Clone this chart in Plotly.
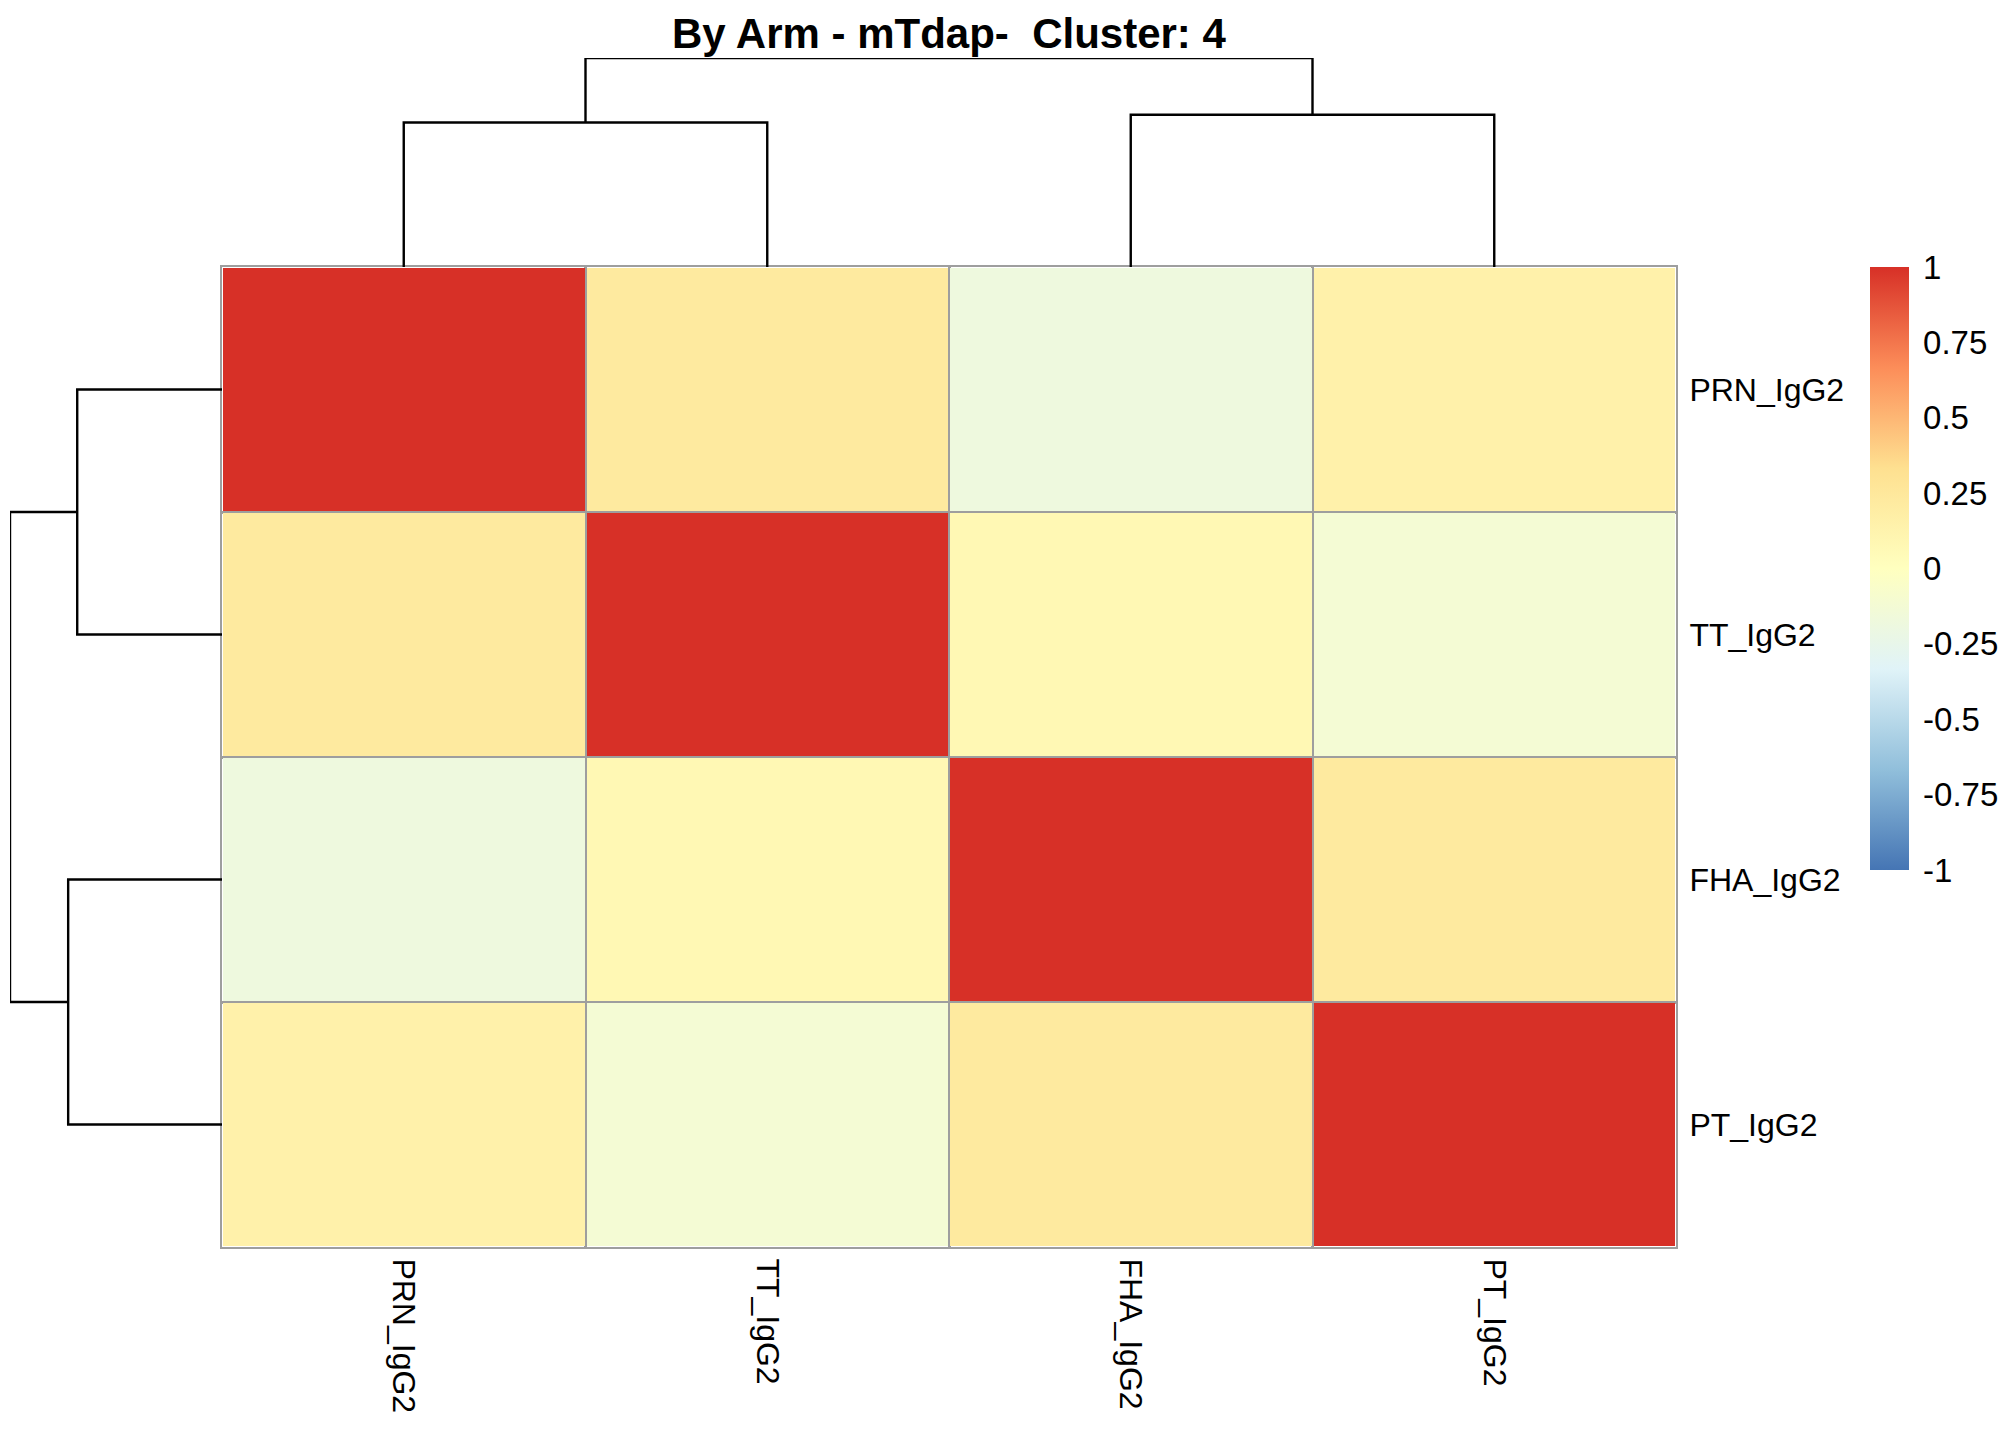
import plotly.graph_objects as go

# --- data -------------------------------------------------------------------
labels = ["PRN_IgG2", "TT_IgG2", "FHA_IgG2", "PT_IgG2"]
corr = [
    [1.00, 0.23, -0.18, 0.15],
    [0.23, 1.00, 0.08, -0.12],
    [-0.18, 0.08, 1.00, 0.23],
    [0.15, -0.12, 0.23, 1.00],
]
# hierarchical clustering merges: (left, right, height); ids >= 4 are earlier merges
col_merges = [(0, 1, 1.12), (2, 3, 1.18), (4, 5, 1.62)]
row_merges = [(0, 1, 1.12), (2, 3, 1.19), (4, 5, 1.64)]
cbar_vals = [1, 0.75, 0.5, 0.25, 0, -0.25, -0.5, -0.75, -1]
title = "By Arm - mTdap-  Cluster: 4"

# pheatmap default palette: rev(brewer.pal(7, "RdYlBu"))
pal = ["#4575B4", "#91BFDB", "#E0F3F8", "#FFFFBF", "#FEE090", "#FC8D59", "#D73027"]
cscale = [[i / (len(pal) - 1), c] for i, c in enumerate(pal)]

# page has an 8px body margin, so the figure is a bit smaller than the window
OFF = 8
W, H = 2016 - 2 * OFF, 1440 - 2 * OFF
FONT = "Liberation Sans, Arial, sans-serif"


def px_x(p):
    return (p - OFF) / W


def px_y(p):
    return 1 - (p - OFF) / H


hm_x = [px_x(222), px_x(1676)]
hm_y = [px_y(1247), px_y(267)]


def dendro_segments(merges, n):
    """return x (leaf position) and y (height) lists for U-shaped links"""
    pos = {i: float(i) for i in range(n)}
    hgt = {i: 0.0 for i in range(n)}
    xs, ys = [], []
    for k, (a, b, h) in enumerate(merges):
        xs += [pos[a], pos[a], pos[b], pos[b], None]
        ys += [hgt[a], h, h, hgt[b], None]
        pos[n + k] = (pos[a] + pos[b]) / 2
        hgt[n + k] = h
    return xs, ys


fig = go.Figure()

fig.add_trace(go.Heatmap(
    z=corr, x=list(range(4)), y=list(range(4)),
    colorscale=cscale, zmin=-1, zmax=1, xgap=2, ygap=2,
    colorbar=dict(
        x=px_x(1870), xanchor="left", y=px_y(267), yanchor="top",
        len=(870 - 267) / H, lenmode="fraction", thickness=39,
        outlinewidth=0, tickvals=cbar_vals, ticktext=[str(v) for v in cbar_vals],
        ticks="outside", ticklen=8, tickcolor="rgba(0,0,0,0)",
        tickfont=dict(size=33, family=FONT, color="black"),
        ypad=0, xpad=0,
    ),
    showscale=True,
))

cx, cy = dendro_segments(col_merges, 4)
fig.add_trace(go.Scatter(x=cx, y=cy, mode="lines", xaxis="x2", yaxis="y2",
                         line=dict(color="black", width=2.4), showlegend=False,
                         hoverinfo="skip"))
rx, ry = dendro_segments(row_merges, 4)
fig.add_trace(go.Scatter(x=ry, y=rx, mode="lines", xaxis="x3", yaxis="y3",
                         line=dict(color="black", width=2.4), showlegend=False,
                         hoverinfo="skip"))

grey = "#9E9E9E"
col_top = max(m[2] for m in col_merges)
row_top = max(m[2] for m in row_merges)
cell_edges = [i + 0.5 for i in range(len(labels) - 1)]

fig.update_layout(
    width=W, height=H, margin=dict(l=0, r=0, t=0, b=0),
    paper_bgcolor="white", plot_bgcolor="white",
    font=dict(family=FONT, color="black"),
    xaxis=dict(domain=hm_x, range=[-0.5, 3.5], tickvals=list(range(4)),
               ticktext=labels, tickangle=90, ticks="", showgrid=False,
               minor=dict(tickvals=cell_edges, showgrid=True, gridcolor=grey,
                          gridwidth=3, ticks=""),
               zeroline=False, showline=True, mirror=True, linecolor=grey,
               linewidth=2, tickfont=dict(size=32), ticklabelstandoff=3),
    yaxis=dict(domain=hm_y, range=[3.5, -0.5], tickvals=list(range(4)),
               ticktext=labels, side="right", ticks="", showgrid=False,
               minor=dict(tickvals=cell_edges, showgrid=True, gridcolor=grey,
                          gridwidth=3, ticks=""),
               zeroline=False, showline=True, mirror=True, linecolor=grey,
               linewidth=2, tickfont=dict(size=32), ticklabelstandoff=5),
    xaxis2=dict(domain=hm_x, range=[-0.5, 3.5], visible=False, anchor="y2"),
    yaxis2=dict(domain=[hm_y[1], px_y(58)], range=[0, col_top], visible=False,
                anchor="x2"),
    xaxis3=dict(domain=[px_x(10), hm_x[0]], range=[row_top, 0], visible=False,
                anchor="y3"),
    yaxis3=dict(domain=hm_y, range=[3.5, -0.5], visible=False, anchor="x3"),
    annotations=[dict(text="<b>" + title + "</b>", x=(hm_x[0] + hm_x[1]) / 2,
                      y=1, xref="paper", yref="paper", showarrow=False,
                      font=dict(size=42, family=FONT), xanchor="center",
                      yanchor="top")],
)

fig.write_html("out.html")
